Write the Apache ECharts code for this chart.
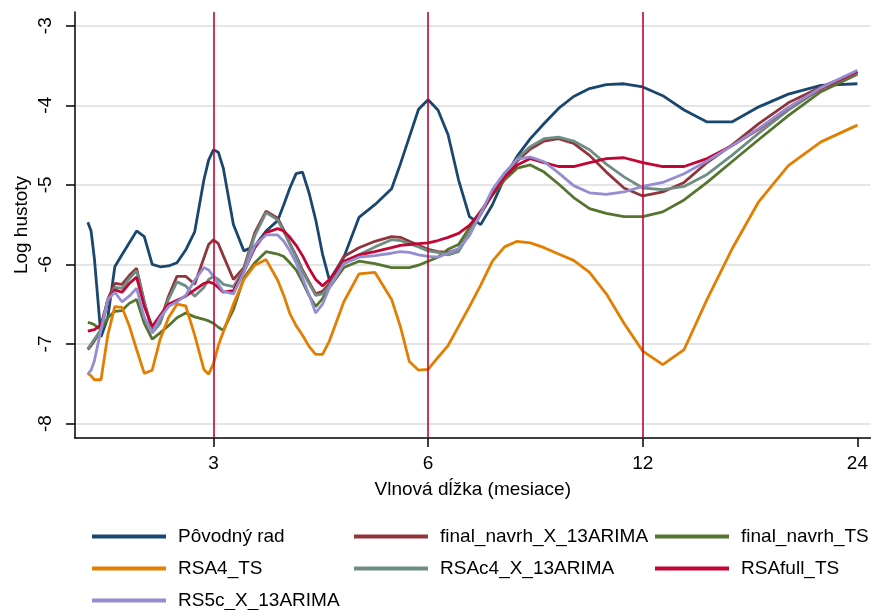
<!DOCTYPE html>
<html>
<head>
<meta charset="utf-8">
<script src="https://cdn.jsdelivr.net/npm/echarts@6.0.0/dist/echarts.min.js"></script>
<style>
  html, body { margin: 0; padding: 0; background: #fff; }
  #spectrum { width: 871px; height: 610px; }
</style>
</head>
<body>
<div id="spectrum"></div>
<script>
  // vlnova dlzka v mesiacoch (log os)
  const wavelength = [2.000, 2.021, 2.043, 2.087, 2.133, 2.182, 2.233, 2.286, 2.341, 2.400,
    2.462, 2.526, 2.595, 2.667, 2.743, 2.824, 2.909, 2.954, 3.000, 3.048,
    3.097, 3.200, 3.310, 3.429, 3.556, 3.692, 3.765, 3.840, 3.918, 4.000,
    4.085, 4.174, 4.267, 4.364, 4.571, 4.800, 5.053, 5.333, 5.486, 5.647,
    5.818, 6.000, 6.194, 6.400, 6.621, 6.857, 7.111, 7.385, 7.680, 8.000,
    8.348, 8.727, 9.143, 9.600, 10.105, 10.667, 11.294, 12.000, 12.800, 13.714,
    14.769, 16.000, 17.455, 19.200, 21.333, 24.000];

  const povodnyRad = [-5.47, -5.58, -5.93, -6.91, -6.67, -6.03, -5.88, -5.73, -5.58, -5.65,
    -6.00, -6.03, -6.02, -5.98, -5.82, -5.59, -4.94, -4.69, -4.56, -4.59,
    -4.79, -5.50, -5.83, -5.77, -5.58, -5.45, -5.25, -5.04, -4.86, -4.84,
    -5.10, -5.44, -5.87, -6.20, -5.91, -5.41, -5.25, -5.05, -4.74, -4.40,
    -4.05, -3.93, -4.06, -4.37, -4.94, -5.40, -5.50, -5.25, -4.91, -4.64,
    -4.42, -4.23, -4.04, -3.89, -3.79, -3.74, -3.73, -3.77, -3.88, -4.06,
    -4.21, -4.21, -4.02, -3.86, -3.75, -3.73];
  const finalNavrhX13 = [-7.07, -7.02, -6.96, -6.82, -6.44, -6.24, -6.25, -6.14, -6.05, -6.47,
    -6.83, -6.72, -6.40, -6.15, -6.15, -6.25, -5.92, -5.75, -5.69, -5.74,
    -5.89, -6.19, -6.04, -5.60, -5.33, -5.42, -5.57, -5.74, -5.89, -6.07,
    -6.22, -6.37, -6.34, -6.24, -5.90, -5.79, -5.71, -5.65, -5.66, -5.71,
    -5.76, -5.81, -5.84, -5.85, -5.81, -5.61, -5.37, -5.12, -4.90, -4.70,
    -4.55, -4.45, -4.42, -4.48, -4.63, -4.84, -5.04, -5.14, -5.09, -4.97,
    -4.72, -4.50, -4.23, -3.97, -3.77, -3.58];
  const finalNavrhTS = [-6.73, -6.74, -6.76, -6.82, -6.67, -6.59, -6.58, -6.49, -6.44, -6.74,
    -6.94, -6.86, -6.77, -6.67, -6.61, -6.66, -6.69, -6.71, -6.74, -6.79,
    -6.83, -6.57, -6.17, -5.98, -5.84, -5.87, -5.90, -5.98, -6.07, -6.22,
    -6.39, -6.53, -6.43, -6.29, -6.04, -5.96, -5.99, -6.04, -6.04, -6.04,
    -6.01, -5.96, -5.91, -5.81, -5.75, -5.54, -5.33, -5.13, -4.94, -4.79,
    -4.75, -4.84, -4.99, -5.16, -5.30, -5.36, -5.40, -5.40, -5.34, -5.19,
    -4.97, -4.71, -4.43, -4.13, -3.83, -3.61];
  const rsa4TS = [-7.37, -7.40, -7.45, -7.45, -6.89, -6.53, -6.54, -6.77, -7.07, -7.37,
    -7.33, -6.94, -6.67, -6.50, -6.52, -6.89, -7.32, -7.38, -7.25, -7.02,
    -6.85, -6.50, -6.19, -6.01, -5.94, -6.20, -6.39, -6.62, -6.77, -6.89,
    -7.03, -7.13, -7.13, -6.96, -6.47, -6.12, -6.10, -6.44, -6.78, -7.22,
    -7.33, -7.32, -7.17, -7.02, -6.78, -6.53, -6.26, -5.96, -5.78, -5.71,
    -5.73, -5.79, -5.87, -5.95, -6.10, -6.37, -6.74, -7.09, -7.26, -7.07,
    -6.44, -5.81, -5.21, -4.76, -4.46, -4.25];
  const rsac4X13 = [-7.06, -7.00, -6.94, -6.82, -6.47, -6.29, -6.30, -6.18, -6.08, -6.47,
    -6.86, -6.74, -6.44, -6.22, -6.27, -6.40, -6.29, -6.19, -6.15, -6.19,
    -6.25, -6.28, -6.06, -5.64, -5.35, -5.44, -5.59, -5.75, -5.91, -6.09,
    -6.24, -6.39, -6.37, -6.27, -5.99, -5.88, -5.78, -5.69, -5.70, -5.74,
    -5.78, -5.83, -5.85, -5.88, -5.84, -5.61, -5.36, -5.10, -4.87, -4.67,
    -4.52, -4.42, -4.40, -4.45, -4.56, -4.74, -4.90, -5.04, -5.06, -5.02,
    -4.87, -4.63, -4.35, -4.06, -3.79, -3.59];
  const rsafullTS = [-6.84, -6.83, -6.82, -6.76, -6.45, -6.32, -6.35, -6.24, -6.16, -6.53,
    -6.78, -6.64, -6.50, -6.45, -6.40, -6.32, -6.24, -6.22, -6.24, -6.29,
    -6.35, -6.33, -6.09, -5.79, -5.60, -5.55, -5.58, -5.66, -5.76, -5.89,
    -6.05, -6.19, -6.27, -6.19, -5.96, -5.88, -5.84, -5.79, -5.76, -5.75,
    -5.74, -5.73, -5.70, -5.66, -5.61, -5.51, -5.34, -5.12, -4.90, -4.75,
    -4.67, -4.72, -4.77, -4.77, -4.72, -4.67, -4.66, -4.72, -4.77, -4.77,
    -4.67, -4.51, -4.30, -4.03, -3.79, -3.58];
  const rs5cX13 = [-7.38, -7.33, -7.21, -6.82, -6.44, -6.35, -6.47, -6.40, -6.30, -6.67,
    -6.86, -6.67, -6.53, -6.47, -6.39, -6.20, -6.04, -6.07, -6.15, -6.25,
    -6.34, -6.37, -6.10, -5.76, -5.63, -5.63, -5.71, -5.83, -5.98, -6.17,
    -6.38, -6.61, -6.50, -6.29, -5.99, -5.91, -5.89, -5.86, -5.84, -5.85,
    -5.88, -5.90, -5.91, -5.86, -5.80, -5.64, -5.36, -5.06, -4.85, -4.68,
    -4.65, -4.71, -4.85, -5.01, -5.10, -5.12, -5.09, -5.02, -4.97, -4.86,
    -4.70, -4.51, -4.29, -4.03, -3.78, -3.56];

  const xTicks = [3, 6, 12, 24];
  const yTicks = [-8, -7, -6, -5, -4, -3];
  const xLines = [3, 6, 12];

  const font = 'Liberation Sans, Arial, Helvetica, sans-serif';
  const names = ['Pôvodný rad', 'final_navrh_X_13ARIMA', 'final_navrh_TS', 'RSA4_TS',
    'RSAc4_X_13ARIMA', 'RSAfull_TS', 'RS5c_X_13ARIMA'];
  const values = [povodnyRad, finalNavrhX13, finalNavrhTS, rsa4TS, rsac4X13, rsafullTS, rs5cX13];
  const colors = ['#1a476f', '#90353b', '#55752f', '#e37e00', '#6e8e84', '#c10534', '#938dd2'];

  const chart = echarts.init(document.getElementById('spectrum'));

  const series = names.map((name, i) => ({
    name: name,
    type: 'line',
    symbol: 'none',
    smooth: false,
    color: colors[i],
    lineStyle: { width: 2.8, color: colors[i] },
    data: wavelength.map((w, j) => [w, values[i][j]])
  }));
  // zvisle ciary na 3, 6 a 12 mesiacoch
  series[0].markLine = {
    silent: true,
    symbol: ['none', 'none'],
    label: { show: false },
    lineStyle: { color: '#c10534', width: 1.6, type: 'solid' },
    data: xLines.map(v => ({ xAxis: v }))
  };

  const legendBase = {
    orient: 'vertical',
    top: 527,
    padding: 0,
    icon: 'rect',
    itemWidth: 74,
    itemHeight: 4,
    itemGap: 13,
    textStyle: { fontSize: 19, color: '#000', fontFamily: font, padding: [0, 0, 0, 7] }
  };

  const option = {
    animation: false,
    backgroundColor: '#fff',
    textStyle: { fontFamily: font },
    grid: { left: 75, right: 0, top: 12, bottom: 172 },
    legend: [
      Object.assign({ left: 92, data: [names[0], names[3], names[6]] }, legendBase),
      Object.assign({ left: 354, data: [names[1], names[4]] }, legendBase),
      Object.assign({ left: 655, data: [names[2], names[5]] }, legendBase)
    ],
    xAxis: {
      type: 'log',
      logBase: 2,
      min: 1.9188,
      max: 25.04,
      name: 'Vlnová dĺžka (mesiace)',
      nameLocation: 'middle',
      nameGap: 42,
      nameTextStyle: { fontSize: 19, color: '#000', fontFamily: font },
      axisLine: { show: true, onZero: false, lineStyle: { color: '#000', width: 1.5 } },
      axisTick: { show: true, length: 9, customValues: xTicks, lineStyle: { color: '#000', width: 1.5 } },
      axisLabel: { customValues: xTicks, fontSize: 19, color: '#000', margin: 16, fontFamily: font },
      splitLine: { show: false },
      minorTick: { show: false }
    },
    yAxis: {
      type: 'value',
      min: -8.182,
      max: -2.828,
      name: 'Log hustoty',
      nameLocation: 'middle',
      nameGap: 44,
      nameMoveOverlap: false,
      nameTextStyle: { fontSize: 19, color: '#000', fontFamily: font },
      axisLine: { show: true, onZero: false, lineStyle: { color: '#000', width: 1.5 } },
      axisTick: { show: true, length: 9, customValues: yTicks, lineStyle: { color: '#000', width: 1.5 } },
      axisLabel: { customValues: yTicks, rotate: 90, fontSize: 19, color: '#000', margin: 20, fontFamily: font },
      splitLine: { show: true, lineStyle: { color: '#dcdcdc', width: 1.5 } }
    },
    series: series
  };

  chart.setOption(option);
</script>
</body>
</html>
